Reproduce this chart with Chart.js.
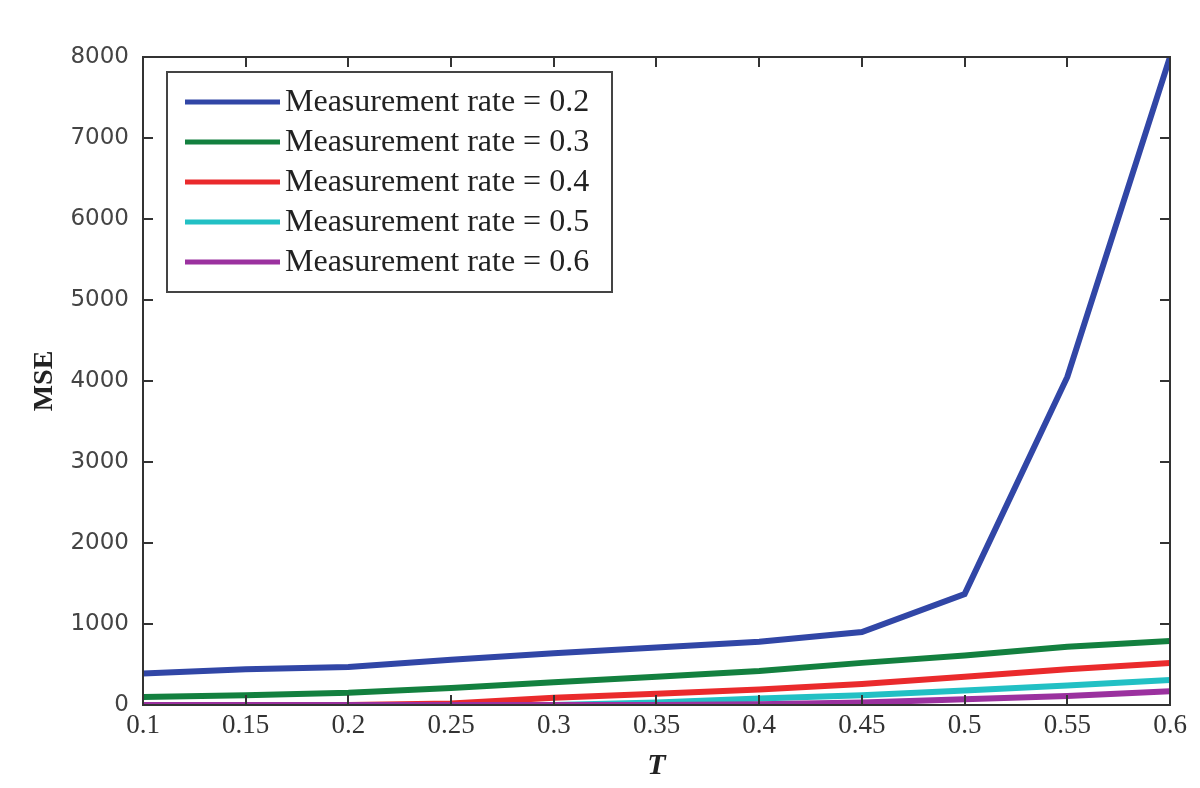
<!DOCTYPE html>
<html>
<head>
<meta charset="utf-8">
<script src="https://cdn.jsdelivr.net/npm/chart.js@4"></script>
<style>
  body { margin: 0; background: #fff; }
  canvas { display: block; }
</style>
</head>
<body>
<canvas id="chart" width="1200" height="788"></canvas>
<script>
const tValues = [0.1, 0.15, 0.2, 0.25, 0.3, 0.35, 0.4, 0.45, 0.5, 0.55, 0.6];
const xTickLabels = ["0.1", "0.15", "0.2", "0.25", "0.3", "0.35", "0.4", "0.45", "0.5", "0.55", "0.6"];
const yTickValues = [0, 1000, 2000, 3000, 4000, 5000, 6000, 7000, 8000];
const yTickLabels = ["0", "1000", "2000", "3000", "4000", "5000", "6000", "7000", "8000"];

const seriesLabels = [
    "Measurement rate = 0.2",
    "Measurement rate = 0.3",
    "Measurement rate = 0.4",
    "Measurement rate = 0.5",
    "Measurement rate = 0.6",
];
const rate02 = [390, 440, 470, 560, 640, 710, 780, 900, 1370, 4050, 8000];
const rate03 = [100, 120, 150, 210, 280, 350, 420, 520, 610, 720, 790];
const rate04 = [0, 0, 0, 20, 90, 140, 190, 260, 350, 440, 520];
const rate05 = [0, 0, 0, 0, 0, 30, 80, 120, 180, 240, 310];
const rate06 = [0, 0, 0, 0, 0, 0, 10, 30, 70, 110, 170];

const allSeries = [rate02, rate03, rate04, rate05, rate06];
const colors = ["#3146a6", "#13803f", "#ea2a2c", "#22c0c4", "#9b319f"];

const serif = "'Liberation Serif', 'DejaVu Serif', serif";
const sans = "'DejaVu Sans', 'Liberation Sans', sans-serif";

// MATLAB-style box with inward ticks on all four sides, plus legend box
const boxPlugin = {
    id: "matlabBox",
    afterDatasetsDraw: (chart) => {
        const { ctx, chartArea: a, scales } = chart;
        ctx.save();
        ctx.strokeStyle = "#333";
        ctx.lineWidth = 2;
        ctx.beginPath();
        tValues.forEach((t) => {
            const x = Math.round(scales.x.getPixelForValue(t));
            ctx.moveTo(x, a.bottom); ctx.lineTo(x, a.bottom - 10);
            ctx.moveTo(x, a.top); ctx.lineTo(x, a.top + 10);
        });
        yTickValues.forEach((v) => {
            const y = Math.round(scales.y.getPixelForValue(v));
            ctx.moveTo(a.left, y); ctx.lineTo(a.left + 10, y);
            ctx.moveTo(a.right, y); ctx.lineTo(a.right - 10, y);
        });
        ctx.stroke();
        ctx.strokeRect(a.left, a.top, a.right - a.left, a.bottom - a.top);

        // legend
        const lx = a.left + 24, ly = a.top + 15, lw = 445, lh = 220;
        ctx.fillStyle = "#fff";
        ctx.fillRect(lx, ly, lw, lh);
        ctx.strokeStyle = "#444";
        ctx.lineWidth = 2;
        ctx.strokeRect(lx, ly, lw, lh);
        ctx.font = "32px " + serif;
        ctx.textBaseline = "middle";
        chart.data.datasets.forEach((ds, i) => {
            const y = ly + 30 + i * 40;
            ctx.strokeStyle = ds.borderColor;
            ctx.lineWidth = 5;
            ctx.beginPath();
            ctx.moveTo(lx + 18, y);
            ctx.lineTo(lx + 113, y);
            ctx.stroke();
            ctx.fillStyle = "#222";
            ctx.fillText(ds.label, lx + 118, y + 1);
        });
        ctx.restore();
    },
};

new Chart(document.getElementById("chart"), {
    type: "line",
    data: {
        datasets: allSeries.map((vals, i) => ({
            label: seriesLabels[i],
            data: vals.map((v, j) => ({ x: tValues[j], y: v })),
            borderColor: colors[i],
            backgroundColor: colors[i],
            borderWidth: 6,
            pointRadius: 0,
            tension: 0,
            order: 4 - i,
        })),
    },
    options: {
        responsive: false,
        animation: false,
        layout: { padding: { top: 57, right: 30, left: 0, bottom: 0 } },
        plugins: {
            legend: { display: false },
            tooltip: { enabled: false },
        },
        scales: {
            x: {
                type: "linear",
                min: 0.1,
                max: 0.6,
                afterBuildTicks: (scale) => {
                    scale.ticks = tValues.map((v) => ({ value: v }));
                },
                afterFit: (scale) => { scale.height = 83; },
                grid: { display: false, drawTicks: false },
                border: { display: false },
                ticks: {
                    padding: 5,
                    maxRotation: 0,
                    autoSkip: false,
                    color: "#333",
                    font: { family: serif, size: 27 },
                    callback: (value, index) => xTickLabels[index],
                },
                title: {
                    display: true,
                    text: "T",
                    color: "#222",
                    padding: { top: 2 },
                    font: { family: serif, size: 30, weight: "bold", style: "italic" },
                },
            },
            y: {
                min: 0,
                max: 8000,
                afterBuildTicks: (scale) => {
                    scale.ticks = yTickValues.map((v) => ({ value: v }));
                },
                afterFit: (scale) => { scale.width = 143; },
                grid: { display: false, drawTicks: false },
                border: { display: false },
                ticks: {
                    padding: 14,
                    color: "#444",
                    font: { family: sans, size: 23 },
                    callback: (value, index) => yTickLabels[index],
                },
                title: {
                    display: true,
                    text: "MSE",
                    color: "#222",
                    padding: { top: 28, bottom: 8 },
                    font: { family: serif, size: 28, weight: "bold" },
                },
            },
        },
    },
    plugins: [boxPlugin],
});
</script>
</body>
</html>
